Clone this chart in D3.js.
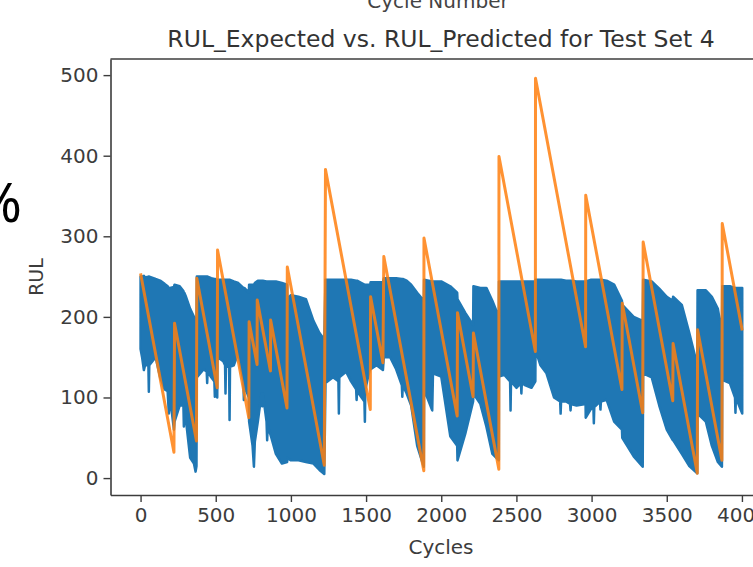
<!DOCTYPE html>
<html>
<head>
<meta charset="utf-8">
<script src="https://cdn.jsdelivr.net/npm/d3@7"></script>
<style>
  html, body { margin: 0; padding: 0; background: #fff; }
  svg { display: block; }
  text { font-family: "DejaVu Sans", sans-serif; }
</style>
</head>
<body>
<svg id="chart" width="753" height="567"></svg>
<script>
// 刻度
const xTicks = [0, 500, 1000, 1500, 2000, 2500, 3000, 3500, 4000];
const yTicks = [0, 100, 200, 300, 400, 500];

// RUL_Expected: 每台发动机的起点和终点（锯齿线）
const expCycles = [0, 222, 226, 372, 374, 510, 512, 720, 722, 775, 776, 864, 865, 974,
  976, 1222, 1230, 1528, 1530, 1612, 1618, 1884, 1885, 2106, 2108, 2212, 2214, 2383,
  2384, 2626, 2627, 2960, 2961, 3202, 3204, 3340, 3343, 3540, 3542, 3703, 3705, 3867,
  3869, 4002];
const expRul = [254, 32, 192, 46, 248, 112, 283, 75, 194, 141, 221, 133, 196, 87,
  262, 16, 383, 85, 225, 143, 275, 9, 298, 77, 205, 101, 180, 11,
  399, 157, 496, 163, 351, 110, 217, 81, 293, 96, 167, 6, 184, 22,
  316, 183];

// RUL_Predicted: 噪声带的上下包络（含窄的下探尖峰）
const predCycles = [
  0, 10, 22, 30, 52, 55, 58, 100, 130, 160, 180, 188, 196, 222,
  226, 260, 285, 288, 291, 300, 330, 355, 366, 372,
  374, 420, 440, 443, 446, 470, 491, 494, 497, 510,
  512, 550, 562, 565, 568, 589, 592, 595, 620, 650, 684, 687, 690, 720,
  722, 745, 754, 760, 780, 805, 809, 813, 838, 842, 846, 870, 900, 940, 975,
  976, 1000, 1050, 1100, 1150, 1190, 1222,
  1230, 1280, 1316, 1319, 1322, 1367, 1400, 1434, 1437, 1440, 1470, 1489, 1492, 1495, 1528,
  1530, 1570, 1612,
  1618, 1660, 1700, 1738, 1741, 1744, 1770, 1800, 1840, 1884,
  1886, 1940, 1945, 2000, 2060, 2106,
  2108, 2160, 2212,
  2214, 2260, 2300, 2340, 2383,
  2384, 2420, 2458, 2461, 2464, 2500, 2530, 2533, 2536, 2560, 2600, 2626,
  2627, 2660, 2700, 2750, 2791, 2794, 2797, 2830, 2857, 2860, 2863, 2900, 2960,
  2961, 2993, 3012, 3015, 3018, 3056, 3059, 3062, 3100, 3150, 3202,
  3204, 3280, 3340,
  3343, 3400, 3450, 3500, 3540,
  3542, 3600, 3650, 3703,
  3705, 3760, 3800, 3840, 3867,
  3869, 3920, 3954, 3957, 3960, 4002];
const predHigh = [
  250, 250, 251, 249, 250, 250, 250, 247, 245, 241, 238, 236, 236, 237,
  240, 238, 232, 230, 230, 226, 210, 200, 195, 190,
  250, 250, 250, 250, 250, 248, 247, 247, 247, 245,
  246, 246, 246, 246, 246, 246, 246, 246, 244, 242, 236, 236, 236, 230,
  240, 240, 240, 242, 245, 245, 245, 245, 244, 244, 244, 244, 244, 242, 240,
  222, 227, 225, 222, 195, 180, 172,
  246, 246, 246, 246, 246, 246, 246, 245, 245, 245, 242, 240, 240, 240, 240,
  243, 243, 243,
  248, 248, 248, 247, 247, 247, 245, 240, 230, 220,
  246, 244, 244, 244, 238, 230,
  222, 205, 190,
  238, 236, 236, 220, 200,
  244, 244, 244, 244, 244, 244, 244, 244, 244, 244, 244, 244,
  246, 246, 246, 246, 246, 246, 246, 245, 245, 245, 245, 244, 244,
  244, 246, 246, 246, 246, 246, 246, 246, 245, 240, 220,
  215, 200, 195,
  246, 244, 235, 225, 220,
  225, 215, 180, 140,
  233, 233, 225, 210, 180,
  238, 238, 236, 236, 236, 236];
const predLow = [
  160, 150, 134, 140, 140, 107, 140, 150, 125, 110, 108, 80, 100, 60,
  70, 90, 90, 64, 88, 75, 25, 18, 8, 15,
  125, 135, 132, 118, 132, 125, 120, 101, 118, 100,
  150, 145, 140, 105, 140, 138, 72, 138, 140, 155, 120, 97, 115, 100,
  70, 40, 14, 45, 70, 105, 89, 105, 70, 47, 65, 50, 30, 18, 20,
  25, 22, 22, 20, 18, 10, 5,
  118, 125, 120, 80, 125, 132, 120, 110, 97, 108, 100, 95, 70, 110, 138,
  135, 140, 134,
  150, 150, 135, 115, 101, 115, 105, 90, 40, 14,
  110, 84, 130, 126, 52, 40,
  22, 55, 95,
  105, 92, 64, 30, 22,
  126, 128, 120, 84, 120, 112, 118, 105, 118, 115, 112, 120,
  159, 140, 130, 100, 95, 80, 95, 95, 92, 84, 92, 90, 92,
  75, 85, 88, 68, 88, 95, 85, 95, 97, 70, 60,
  50, 27, 14,
  130, 125, 90, 60, 47,
  47, 30, 15, 6,
  80, 70, 40, 20, 14,
  122, 118, 100, 81, 100, 80];

const svg = d3.select("#chart");
const axisColor = "#3c3c3c";

const x = d3.scaleLinear().domain([-200, 4200]).range([110.5, 772]);
const y = d3.scaleLinear().domain([-21, 520]).range([495, 59]);

// 噪声带
const pred = predCycles.map((c, i) => ({ c, hi: predHigh[i], lo: predLow[i] }));
const band = d3.area()
  .x(d => x(d.c))
  .y0(d => y(d.lo))
  .y1(d => y(d.hi));
svg.append("path")
  .datum(pred)
  .attr("d", band)
  .attr("fill", "#1f77b4")
  .attr("stroke", "#1f77b4")
  .attr("stroke-width", 2.5)
  .attr("stroke-linejoin", "round");

// 锯齿线
const exp = expCycles.map((c, i) => ({ c, v: expRul[i] }));
svg.append("path")
  .datum(exp)
  .attr("d", d3.line().x(d => x(d.c)).y(d => y(d.v)))
  .attr("fill", "none")
  .attr("stroke", "#ff7f0e")
  .attr("stroke-opacity", 0.85)
  .attr("stroke-width", 3)
  .attr("stroke-linejoin", "round");

// 坐标轴
const xAxis = svg.append("g")
  .attr("transform", "translate(0,495)")
  .call(d3.axisBottom(x).tickValues(xTicks).tickFormat(d3.format("d")).tickSizeInner(7).tickSizeOuter(0).tickPadding(6));
const yAxis = svg.append("g")
  .attr("transform", "translate(110.5,0)")
  .call(d3.axisLeft(y).tickValues(yTicks).tickFormat(d3.format("d")).tickSizeInner(7).tickSizeOuter(0).tickPadding(5));

[xAxis, yAxis].forEach(g => {
  g.select(".domain").attr("stroke", axisColor).attr("stroke-width", 1.6);
  g.selectAll(".tick line").attr("stroke", axisColor).attr("stroke-width", 1.4);
  g.selectAll(".tick text")
    .attr("fill", axisColor)
    .style("font-family", "DejaVu Sans")
    .style("font-size", "20px");
});

// 上边框（右边框在画面外）
svg.append("line")
  .attr("x1", 110.5).attr("x2", 772)
  .attr("y1", 59).attr("y2", 59)
  .attr("stroke", axisColor).attr("stroke-width", 1.6);

// 标题与轴标签
svg.append("text")
  .attr("x", 441).attr("y", 47)
  .attr("text-anchor", "middle")
  .attr("fill", "#333")
  .style("font-size", "23.5px")
  .text("RUL_Expected vs. RUL_Predicted for Test Set 4");

svg.append("text")
  .attr("x", 438).attr("y", 8)
  .attr("text-anchor", "middle")
  .attr("fill", "#444")
  .style("font-size", "20px")
  .text("Cycle Number");

svg.append("text")
  .attr("x", 441).attr("y", 554)
  .attr("text-anchor", "middle")
  .attr("fill", axisColor)
  .style("font-size", "20px")
  .text("Cycles");

svg.append("text")
  .attr("transform", "translate(43,277) rotate(-90)")
  .attr("text-anchor", "middle")
  .attr("fill", axisColor)
  .style("font-size", "19px")
  .text("RUL");

// 左侧被截断的符号
svg.append("text")
  .attr("x", 22).attr("y", 222)
  .attr("text-anchor", "end")
  .attr("fill", "#000")
  .style("font-family", "Noto Sans")
  .style("font-size", "55px")
  .text("%");
</script>
</body>
</html>
